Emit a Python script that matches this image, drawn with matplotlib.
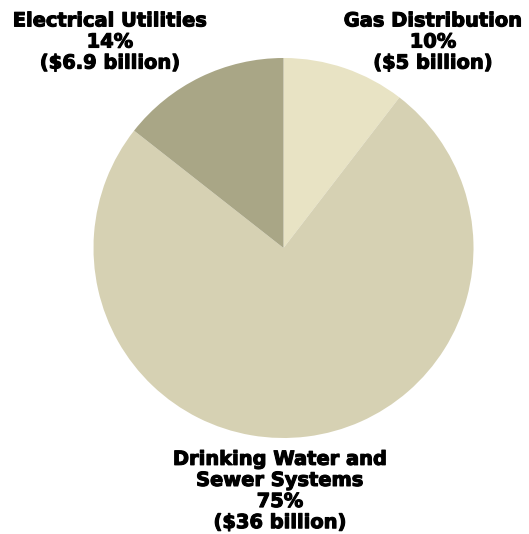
import matplotlib
matplotlib.use("Agg")
import matplotlib.pyplot as plt
import matplotlib.patheffects as pe

labels = ["Gas Distribution", "Drinking Water and\nSewer Systems", "Electrical Utilities"]
values = [5.0, 36.0, 6.9]
percents = ["10%", "75%", "14%"]
amounts = ["($5 billion)", "($36 billion)", "($6.9 billion)"]
colors = ["#E8E3C4", "#D6D1B3", "#A9A686"]

W, H = 529, 534
fig = plt.figure(figsize=(W / 100, H / 100), dpi=100)
ax = fig.add_axes([0, 0, 1, 1])

ax.pie(values, colors=colors, startangle=90, counterclock=False,
       center=(283.5, H - 248), radius=190, frame=True,
       wedgeprops=dict(linewidth=0))
ax.set_xlim(0, W)
ax.set_ylim(0, H)
ax.set_aspect("equal")
ax.axis("off")

font = dict(family="DejaVu Sans", weight="bold", fontsize=14, color="black",
            ha="center", va="center", multialignment="center", linespacing=1.14,
            path_effects=[pe.withStroke(linewidth=0.8, foreground="black")])

def lab(i):
    return labels[i] + "\n" + percents[i] + "\n" + amounts[i]

ax.text(433, H - 42, lab(0), **font)
ax.text(110, H - 42, lab(2), **font)
ax.text(280, H - 491, lab(1), **font)

fig.savefig("out.png", dpi=100)
